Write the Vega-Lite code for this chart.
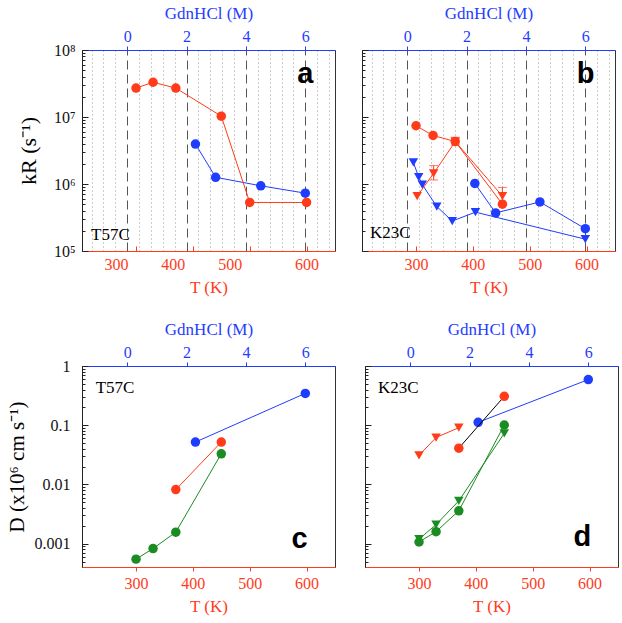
{
  "$schema": "https://vega.github.io/schema/vega-lite/v6.json",
  "padding": {"left": 5, "top": 3, "right": 5, "bottom": 5},
  "config": {
    "font": "Liberation Serif",
    "view": {"stroke": "#333333", "strokeWidth": 1},
    "axis": {"labelOverlap": false, "labelFont": "Liberation Serif", "titleFont": "Liberation Serif", "titleFontWeight": "normal", "labelFontSize": 16, "titleFontSize": 17, "grid": false},
    "line": {"strokeWidth": 1},
    "point": {"filled": true, "opacity": 1, "size": 90}
  },
  "datasets": {
    "kr": [
      {"panel": "a", "series": "a1", "group": "A", "probe": "1", "T": 300, "k": 27000000},
      {"panel": "a", "series": "a1", "group": "A", "probe": "1", "T": 330, "k": 33000000},
      {"panel": "a", "series": "a1", "group": "A", "probe": "1", "T": 370, "k": 27000000},
      {"panel": "a", "series": "a1", "group": "A", "probe": "1", "T": 450, "k": 10300000},
      {"panel": "a", "series": "a1", "group": "A", "probe": "1", "T": 500, "k": 530000},
      {"panel": "a", "series": "a1", "group": "A", "probe": "1", "T": 600, "k": 530000},
      {"panel": "a", "series": "a2", "group": "B", "probe": "1", "G": 2.3, "k": 3950000},
      {"panel": "a", "series": "a2", "group": "B", "probe": "1", "G": 2.98, "k": 1260000},
      {"panel": "a", "series": "a2", "group": "B", "probe": "1", "G": 4.5, "k": 940000},
      {"panel": "a", "series": "a2", "group": "B", "probe": "1", "G": 6.0, "k": 730000},
      {"panel": "b", "series": "b1", "group": "A", "probe": "1", "T": 300, "k": 7400000},
      {"panel": "b", "series": "b1", "group": "A", "probe": "1", "T": 330, "k": 5300000},
      {"panel": "b", "series": "b1", "group": "A", "probe": "1", "T": 369, "k": 4300000},
      {"panel": "b", "series": "b1", "group": "A", "probe": "1", "T": 452, "k": 500000},
      {"panel": "b", "series": "b2", "group": "A", "probe": "2", "T": 302, "k": 660000},
      {"panel": "b", "series": "b2", "group": "A", "probe": "2", "T": 331, "k": 1440000, "lo": 1150000, "hi": 1880000},
      {"panel": "b", "series": "b2", "group": "A", "probe": "2", "T": 369, "k": 4300000, "lo": 3820000, "hi": 4980000},
      {"panel": "b", "series": "b2", "group": "A", "probe": "2", "T": 452, "k": 660000, "lo": 490000, "hi": 890000},
      {"panel": "b", "series": "b3", "group": "B", "probe": "2", "G": 0.21, "k": 2100000},
      {"panel": "b", "series": "b3", "group": "B", "probe": "2", "G": 0.39, "k": 1270000},
      {"panel": "b", "series": "b3", "group": "B", "probe": "2", "G": 0.51, "k": 980000},
      {"panel": "b", "series": "b3", "group": "B", "probe": "2", "G": 1.0, "k": 460000},
      {"panel": "b", "series": "b3", "group": "B", "probe": "2", "G": 1.52, "k": 280000},
      {"panel": "b", "series": "b3", "group": "B", "probe": "2", "G": 2.3, "k": 380000},
      {"panel": "b", "series": "b3", "group": "B", "probe": "2", "G": 6.0, "k": 150000},
      {"panel": "b", "series": "b4", "group": "B", "probe": "1", "G": 2.28, "k": 1020000},
      {"panel": "b", "series": "b4", "group": "B", "probe": "1", "G": 2.98, "k": 370000},
      {"panel": "b", "series": "b4", "group": "B", "probe": "1", "G": 4.47, "k": 540000},
      {"panel": "b", "series": "b4", "group": "B", "probe": "1", "G": 6.0, "k": 215000}
    ],
    "diff": [
      {"panel": "c", "series": "c1", "group": "C", "probe": "1", "T": 300, "D": 0.00055},
      {"panel": "c", "series": "c1", "group": "C", "probe": "1", "T": 330, "D": 0.00083},
      {"panel": "c", "series": "c1", "group": "C", "probe": "1", "T": 370, "D": 0.00157},
      {"panel": "c", "series": "c1", "group": "C", "probe": "1", "T": 450, "D": 0.033},
      {"panel": "c", "series": "c2", "group": "A", "probe": "1", "T": 370, "D": 0.0082},
      {"panel": "c", "series": "c2", "group": "A", "probe": "1", "T": 450, "D": 0.052},
      {"panel": "c", "series": "c3", "group": "B", "probe": "1", "G": 2.3, "D": 0.052},
      {"panel": "c", "series": "c3", "group": "B", "probe": "1", "G": 6.0, "D": 0.345},
      {"panel": "d", "series": "d1", "group": "A", "probe": "2", "T": 300, "D": 0.031},
      {"panel": "d", "series": "d1", "group": "A", "probe": "2", "T": 330, "D": 0.062},
      {"panel": "d", "series": "d1", "group": "A", "probe": "2", "T": 370, "D": 0.091},
      {"panel": "d", "series": "d2", "group": "A", "probe": "1", "T": 370, "D": 0.041},
      {"panel": "d", "series": "d2", "group": "A", "probe": "1", "T": 450, "D": 0.308},
      {"panel": "d", "series": "d3", "group": "C", "probe": "1", "T": 300, "D": 0.00107},
      {"panel": "d", "series": "d3", "group": "C", "probe": "1", "T": 330, "D": 0.0016},
      {"panel": "d", "series": "d3", "group": "C", "probe": "1", "T": 370, "D": 0.0036},
      {"panel": "d", "series": "d3", "group": "C", "probe": "1", "T": 450, "D": 0.101},
      {"panel": "d", "series": "d4", "group": "C", "probe": "2", "T": 300, "D": 0.0012},
      {"panel": "d", "series": "d4", "group": "C", "probe": "2", "T": 330, "D": 0.0021},
      {"panel": "d", "series": "d4", "group": "C", "probe": "2", "T": 370, "D": 0.0053},
      {"panel": "d", "series": "d4", "group": "C", "probe": "2", "T": 450, "D": 0.073},
      {"panel": "d", "series": "d5", "group": "B", "probe": "1", "G": 2.29, "D": 0.112},
      {"panel": "d", "series": "d5", "group": "B", "probe": "1", "G": 6.0, "D": 0.59}
    ],
    "notes": [
      {"panel": "a", "kind": "letter", "label": "a", "T": 612, "v": 32000000},
      {"panel": "a", "kind": "name", "label": "T57C", "T": 221, "v": 146000},
      {"panel": "b", "kind": "letter", "label": "b", "T": 614, "v": 32000000},
      {"panel": "b", "kind": "name", "label": "K23C", "T": 219, "v": 155000},
      {"panel": "c", "kind": "letter", "label": "c", "T": 602, "v": 0.00085},
      {"panel": "c", "kind": "name", "label": "T57C", "T": 229, "v": 0.355},
      {"panel": "d", "kind": "letter", "label": "d", "T": 603, "v": 0.00092},
      {"panel": "d", "kind": "name", "label": "K23C", "T": 228, "v": 0.355}
    ]
  },
  "spacing": 23,
  "columns": 1,
  "align": "none",
  "concat": [
    {
      "spacing": 25,
      "hconcat": [
        {
          "width": 253, "height": 201,
          "resolve": {"scale": {"x": "independent"}},
          "encoding": {"y": {"field": "k", "type": "quantitative", "scale": {"type": "log", "domain": [100000, 100000000], "nice": false},
            "axis": {"title": "kR (s⁻¹)", "titleFontSize": 22, "titlePadding": 13, "domainColor": "#222", "tickColor": "#222", "labelColor": "#111", "grid": false,
              "values": [100000,200000,300000,400000,500000,600000,700000,800000,900000,1000000,2000000,3000000,4000000,5000000,6000000,7000000,8000000,9000000,10000000,20000000,30000000,40000000,50000000,60000000,70000000,80000000,90000000,100000000],
              "labelExpr": "abs(log(datum.value)/LN10 - round(log(datum.value)/LN10)) < 1e-6 ? '10' + ['⁰','¹','²','³','⁴','⁵','⁶','⁷','⁸','⁹'][round(log(datum.value)/LN10)] : ''",
              "tickSize": {"condition": {"test": "abs(log(datum.value)/LN10 - round(log(datum.value)/LN10)) < 1e-6", "value": -6}, "value": -3},
              "labelPadding": 13}}},
          "layer": [
            {
              "data": {"name": "kr"},
              "transform": [{"filter": "datum.panel == 'a' && isValid(datum.G)"}],
              "encoding": {"x": {"field": "G", "type": "quantitative", "scale": {"domain": [-1.52, 7.0], "nice": false, "zero": false},
                "axis": {"orient": "top", "title": "GdnHCl (M)", "titleColor": "#1f3dff", "labelColor": "#1f3dff", "domainColor": "#1f3dff", "tickColor": "#1f3dff", "titlePadding": 6,
                  "values": [-1.2,-0.8,-0.4,0,0.4,0.8,1.2,1.6,2,2.4,2.8,3.2,3.6,4,4.4,4.8,5.2,5.6,6,6.4,6.8],
                  "labelExpr": "abs(datum.value % 2) < 1e-6 ? format(datum.value, 'd') : ''",
                  "tickOpacity": {"condition": {"test": "abs(datum.value % 2) < 1e-6", "value": 1}, "value": 0},
                  "tickSize": 4,
                  "grid": true,
                  "gridColor": {"condition": {"test": "abs(datum.value % 2) < 1e-6", "value": "#555555"}, "value": "#9a9a9a"},
                  "gridDash": {"condition": {"test": "abs(datum.value % 2) < 1e-6", "value": [9, 5]}, "value": [1, 3]}}}},
              "layer": [
                {"mark": {"type": "line"}, "encoding": {"stroke": {"field": "series", "type": "nominal", "legend": null, "scale": {"domain": ["a1","a2","b1","b2","b3","b4","c1","c2","c3","d1","d2","d3","d4","d5"], "range": ["#ff3b1a","#1f3dff","#ff3b1a","#ff3b1a","#1f3dff","#1f3dff","#1b8c22","#ff3b1a","#1f3dff","#ff3b1a","#000000","#1b8c22","#1b8c22","#1f3dff"]}}}},
                {"mark": {"type": "point"}, "encoding": {"color": {"field": "group", "type": "nominal", "legend": null, "scale": {"domain": ["A","B","C"], "range": ["#ff3b1a","#1f3dff","#1b8c22"]}}, "shape": {"field": "probe", "type": "nominal", "legend": null, "scale": {"domain": ["1","2"], "range": ["circle","triangle-down"]}}}}
              ]
            },
            {
              "encoding": {"x": {"field": "T", "type": "quantitative", "scale": {"domain": [205, 650], "nice": false, "zero": false},
                "axis": {"orient": "bottom", "title": "T (K)", "titleColor": "#ff3b1a", "labelColor": "#ff3b1a", "domainColor": "#ff3b1a", "tickColor": "#ff3b1a", "values": [300, 400, 500, 600], "tickSize": -5, "labelPadding": 10, "titlePadding": 7, "grid": false,
                  "labelOffset": {"condition": {"test": "datum.value < 550", "value": -20}, "value": 0}}}},
              "layer": [
                {"data": {"name": "kr"}, "transform": [{"filter": "datum.panel == 'a' && isValid(datum.T)"}],
                 "mark": {"type": "line"}, "encoding": {"stroke": {"field": "series", "type": "nominal", "legend": null, "scale": {"domain": ["a1","a2","b1","b2","b3","b4","c1","c2","c3","d1","d2","d3","d4","d5"], "range": ["#ff3b1a","#1f3dff","#ff3b1a","#ff3b1a","#1f3dff","#1f3dff","#1b8c22","#ff3b1a","#1f3dff","#ff3b1a","#000000","#1b8c22","#1b8c22","#1f3dff"]}}}},
                {"data": {"name": "kr"}, "transform": [{"filter": "datum.panel == 'a' && isValid(datum.T)"}],
                 "mark": {"type": "point"}, "encoding": {"color": {"field": "group", "type": "nominal", "legend": null, "scale": {"domain": ["A","B","C"], "range": ["#ff3b1a","#1f3dff","#1b8c22"]}}, "shape": {"field": "probe", "type": "nominal", "legend": null, "scale": {"domain": ["1","2"], "range": ["circle","triangle-down"]}}}},
                {"data": {"name": "notes"}, "transform": [{"filter": "datum.panel == 'a' && datum.kind == 'letter'"}],
                 "mark": {"type": "text", "font": "Liberation Sans", "fontWeight": "bold", "fontSize": 29, "align": "right", "baseline": "alphabetic", "color": "#000000"},
                 "encoding": {"y": {"field": "v", "type": "quantitative"}, "text": {"field": "label"}}},
                {"data": {"name": "notes"}, "transform": [{"filter": "datum.panel == 'a' && datum.kind == 'name'"}],
                 "mark": {"type": "text", "font": "Liberation Serif", "fontSize": 17, "align": "left", "baseline": "alphabetic", "color": "#000000"},
                 "encoding": {"y": {"field": "v", "type": "quantitative"}, "text": {"field": "label"}}}
              ]
            }
          ]
        },
        {
          "width": 253, "height": 201,
          "resolve": {"scale": {"x": "independent"}},
          "encoding": {"y": {"field": "k", "type": "quantitative", "scale": {"type": "log", "domain": [100000, 100000000], "nice": false},
            "axis": {"title": null, "labels": false, "domainColor": "#222", "tickColor": "#222", "grid": false,
              "values": [100000,200000,300000,400000,500000,600000,700000,800000,900000,1000000,2000000,3000000,4000000,5000000,6000000,7000000,8000000,9000000,10000000,20000000,30000000,40000000,50000000,60000000,70000000,80000000,90000000,100000000],
              "tickSize": {"condition": {"test": "abs(log(datum.value)/LN10 - round(log(datum.value)/LN10)) < 1e-6", "value": -6}, "value": -3}}}},
          "layer": [
            {
              "data": {"name": "kr"},
              "transform": [{"filter": "datum.panel == 'b' && isValid(datum.G)"}],
              "encoding": {"x": {"field": "G", "type": "quantitative", "scale": {"domain": [-1.52, 7.0], "nice": false, "zero": false},
                "axis": {"orient": "top", "title": "GdnHCl (M)", "titleColor": "#1f3dff", "labelColor": "#1f3dff", "domainColor": "#1f3dff", "tickColor": "#1f3dff", "titlePadding": 6,
                  "values": [-1.2,-0.8,-0.4,0,0.4,0.8,1.2,1.6,2,2.4,2.8,3.2,3.6,4,4.4,4.8,5.2,5.6,6,6.4,6.8],
                  "labelExpr": "abs(datum.value % 2) < 1e-6 ? format(datum.value, 'd') : ''",
                  "tickOpacity": {"condition": {"test": "abs(datum.value % 2) < 1e-6", "value": 1}, "value": 0},
                  "tickSize": 4,
                  "grid": true,
                  "gridColor": {"condition": {"test": "abs(datum.value % 2) < 1e-6", "value": "#555555"}, "value": "#9a9a9a"},
                  "gridDash": {"condition": {"test": "abs(datum.value % 2) < 1e-6", "value": [9, 5]}, "value": [1, 3]}}}},
              "layer": [
                {"mark": {"type": "line"}, "encoding": {"stroke": {"field": "series", "type": "nominal", "legend": null, "scale": {"domain": ["a1","a2","b1","b2","b3","b4","c1","c2","c3","d1","d2","d3","d4","d5"], "range": ["#ff3b1a","#1f3dff","#ff3b1a","#ff3b1a","#1f3dff","#1f3dff","#1b8c22","#ff3b1a","#1f3dff","#ff3b1a","#000000","#1b8c22","#1b8c22","#1f3dff"]}}}},
                {"mark": {"type": "point"}, "encoding": {"color": {"field": "group", "type": "nominal", "legend": null, "scale": {"domain": ["A","B","C"], "range": ["#ff3b1a","#1f3dff","#1b8c22"]}}, "shape": {"field": "probe", "type": "nominal", "legend": null, "scale": {"domain": ["1","2"], "range": ["circle","triangle-down"]}}}}
              ]
            },
            {
              "encoding": {"x": {"field": "T", "type": "quantitative", "scale": {"domain": [205, 650], "nice": false, "zero": false},
                "axis": {"orient": "bottom", "title": "T (K)", "titleColor": "#ff3b1a", "labelColor": "#ff3b1a", "domainColor": "#ff3b1a", "tickColor": "#ff3b1a", "values": [300, 400, 500, 600], "tickSize": -5, "labelPadding": 10, "titlePadding": 7, "grid": false}}},
              "layer": [
                {"data": {"name": "kr"}, "transform": [{"filter": "datum.panel == 'b' && isValid(datum.T)"}],
                 "mark": {"type": "line"}, "encoding": {"stroke": {"field": "series", "type": "nominal", "legend": null, "scale": {"domain": ["a1","a2","b1","b2","b3","b4","c1","c2","c3","d1","d2","d3","d4","d5"], "range": ["#ff3b1a","#1f3dff","#ff3b1a","#ff3b1a","#1f3dff","#1f3dff","#1b8c22","#ff3b1a","#1f3dff","#ff3b1a","#000000","#1b8c22","#1b8c22","#1f3dff"]}}}},
                {"data": {"name": "kr"}, "transform": [{"filter": "datum.panel == 'b' && isValid(datum.lo)"}],
                 "mark": {"type": "errorbar", "ticks": {"size": 9}, "color": "#ff3b1a"},
                 "encoding": {"y": {"field": "lo", "type": "quantitative", "scale": {"type": "log"}}, "y2": {"field": "hi"}}},
                {"data": {"name": "kr"}, "transform": [{"filter": "datum.panel == 'b' && isValid(datum.T)"}],
                 "mark": {"type": "point"}, "encoding": {"color": {"field": "group", "type": "nominal", "legend": null, "scale": {"domain": ["A","B","C"], "range": ["#ff3b1a","#1f3dff","#1b8c22"]}}, "shape": {"field": "probe", "type": "nominal", "legend": null, "scale": {"domain": ["1","2"], "range": ["circle","triangle-down"]}}}},
                {"data": {"name": "notes"}, "transform": [{"filter": "datum.panel == 'b' && datum.kind == 'letter'"}],
                 "mark": {"type": "text", "font": "Liberation Sans", "fontWeight": "bold", "fontSize": 29, "align": "right", "baseline": "alphabetic", "color": "#000000"},
                 "encoding": {"y": {"field": "v", "type": "quantitative"}, "text": {"field": "label"}}},
                {"data": {"name": "notes"}, "transform": [{"filter": "datum.panel == 'b' && datum.kind == 'name'"}],
                 "mark": {"type": "text", "font": "Liberation Serif", "fontSize": 17, "align": "left", "baseline": "alphabetic", "color": "#000000"},
                 "encoding": {"y": {"field": "v", "type": "quantitative"}, "text": {"field": "label"}}}
              ]
            }
          ]
        }
      ]
    },
    {
      "spacing": 28,
      "hconcat": [
        {
          "width": 253, "height": 201,
          "resolve": {"scale": {"x": "independent"}},
          "encoding": {"y": {"field": "D", "type": "quantitative", "scale": {"type": "log", "domain": [0.000405, 1], "nice": false},
            "axis": {"title": "D (x10⁶ cm s⁻¹)", "titleFontSize": 21, "titlePadding": 7, "domainColor": "#222", "tickColor": "#222", "labelColor": "#111", "grid": false,
              "values": [0.0005,0.0006,0.0007,0.0008,0.0009,0.001,0.002,0.003,0.004,0.005,0.006,0.007,0.008,0.009,0.01,0.02,0.03,0.04,0.05,0.06,0.07,0.08,0.09,0.1,0.2,0.3,0.4,0.5,0.6,0.7,0.8,0.9,1],
              "labelExpr": "abs(log(datum.value)/LN10 - round(log(datum.value)/LN10)) < 1e-6 ? format(datum.value, '~g') : ''",
              "tickSize": {"condition": {"test": "abs(log(datum.value)/LN10 - round(log(datum.value)/LN10)) < 1e-6", "value": -6}, "value": -3},
              "labelPadding": 18}}},
          "layer": [
            {
              "data": {"name": "diff"},
              "transform": [{"filter": "datum.panel == 'c' && isValid(datum.G)"}],
              "encoding": {"x": {"field": "G", "type": "quantitative", "scale": {"domain": [-1.52, 7.0], "nice": false, "zero": false},
                "axis": {"orient": "top", "title": "GdnHCl (M)", "titleColor": "#1f3dff", "labelColor": "#1f3dff", "domainColor": "#1f3dff", "tickColor": "#1f3dff", "titlePadding": 6,
                  "values": [0, 2, 4, 6], "format": "d", "tickSize": 4, "grid": false}}},
              "layer": [
                {"mark": {"type": "line"}, "encoding": {"stroke": {"field": "series", "type": "nominal", "legend": null, "scale": {"domain": ["a1","a2","b1","b2","b3","b4","c1","c2","c3","d1","d2","d3","d4","d5"], "range": ["#ff3b1a","#1f3dff","#ff3b1a","#ff3b1a","#1f3dff","#1f3dff","#1b8c22","#ff3b1a","#1f3dff","#ff3b1a","#000000","#1b8c22","#1b8c22","#1f3dff"]}}}},
                {"mark": {"type": "point"}, "encoding": {"color": {"field": "group", "type": "nominal", "legend": null, "scale": {"domain": ["A","B","C"], "range": ["#ff3b1a","#1f3dff","#1b8c22"]}}, "shape": {"field": "probe", "type": "nominal", "legend": null, "scale": {"domain": ["1","2"], "range": ["circle","triangle-down"]}}}}
              ]
            },
            {
              "encoding": {"x": {"field": "T", "type": "quantitative", "scale": {"domain": [205, 650], "nice": false, "zero": false},
                "axis": {"orient": "bottom", "title": "T (K)", "titleColor": "#ff3b1a", "labelColor": "#ff3b1a", "domainColor": "#ff3b1a", "tickColor": "#ff3b1a", "values": [300, 400, 500, 600], "tickSize": 4, "labelPadding": 4, "titlePadding": 7, "grid": false}}},
              "layer": [
                {"data": {"name": "diff"}, "transform": [{"filter": "datum.panel == 'c' && isValid(datum.T)"}],
                 "mark": {"type": "line"}, "encoding": {"stroke": {"field": "series", "type": "nominal", "legend": null, "scale": {"domain": ["a1","a2","b1","b2","b3","b4","c1","c2","c3","d1","d2","d3","d4","d5"], "range": ["#ff3b1a","#1f3dff","#ff3b1a","#ff3b1a","#1f3dff","#1f3dff","#1b8c22","#ff3b1a","#1f3dff","#ff3b1a","#000000","#1b8c22","#1b8c22","#1f3dff"]}}}},
                {"data": {"name": "diff"}, "transform": [{"filter": "datum.panel == 'c' && isValid(datum.T)"}],
                 "mark": {"type": "point"}, "encoding": {"color": {"field": "group", "type": "nominal", "legend": null, "scale": {"domain": ["A","B","C"], "range": ["#ff3b1a","#1f3dff","#1b8c22"]}}, "shape": {"field": "probe", "type": "nominal", "legend": null, "scale": {"domain": ["1","2"], "range": ["circle","triangle-down"]}}}},
                {"data": {"name": "notes"}, "transform": [{"filter": "datum.panel == 'c' && datum.kind == 'letter'"}],
                 "mark": {"type": "text", "font": "Liberation Sans", "fontWeight": "bold", "fontSize": 29, "align": "right", "baseline": "alphabetic", "color": "#000000"},
                 "encoding": {"y": {"field": "v", "type": "quantitative"}, "text": {"field": "label"}}},
                {"data": {"name": "notes"}, "transform": [{"filter": "datum.panel == 'c' && datum.kind == 'name'"}],
                 "mark": {"type": "text", "font": "Liberation Serif", "fontSize": 17, "align": "left", "baseline": "alphabetic", "color": "#000000"},
                 "encoding": {"y": {"field": "v", "type": "quantitative"}, "text": {"field": "label"}}}
              ]
            }
          ]
        },
        {
          "width": 253, "height": 201,
          "resolve": {"scale": {"x": "independent"}},
          "encoding": {"y": {"field": "D", "type": "quantitative", "scale": {"type": "log", "domain": [0.000405, 1], "nice": false},
            "axis": {"title": null, "labels": false, "domainColor": "#222", "tickColor": "#222", "grid": false,
              "values": [0.0005,0.0006,0.0007,0.0008,0.0009,0.001,0.002,0.003,0.004,0.005,0.006,0.007,0.008,0.009,0.01,0.02,0.03,0.04,0.05,0.06,0.07,0.08,0.09,0.1,0.2,0.3,0.4,0.5,0.6,0.7,0.8,0.9,1],
              "tickSize": {"condition": {"test": "abs(log(datum.value)/LN10 - round(log(datum.value)/LN10)) < 1e-6", "value": -6}, "value": -3}}}},
          "layer": [
            {
              "data": {"name": "diff"},
              "transform": [{"filter": "datum.panel == 'd' && isValid(datum.G)"}],
              "encoding": {"x": {"field": "G", "type": "quantitative", "scale": {"domain": [-1.52, 7.0], "nice": false, "zero": false},
                "axis": {"orient": "top", "title": "GdnHCl (M)", "titleColor": "#1f3dff", "labelColor": "#1f3dff", "domainColor": "#1f3dff", "tickColor": "#1f3dff", "titlePadding": 6,
                  "values": [0, 2, 4, 6], "format": "d", "tickSize": 4, "grid": false}}},
              "layer": [
                {"mark": {"type": "line"}, "encoding": {"stroke": {"field": "series", "type": "nominal", "legend": null, "scale": {"domain": ["a1","a2","b1","b2","b3","b4","c1","c2","c3","d1","d2","d3","d4","d5"], "range": ["#ff3b1a","#1f3dff","#ff3b1a","#ff3b1a","#1f3dff","#1f3dff","#1b8c22","#ff3b1a","#1f3dff","#ff3b1a","#000000","#1b8c22","#1b8c22","#1f3dff"]}}}},
                {"mark": {"type": "point"}, "encoding": {"color": {"field": "group", "type": "nominal", "legend": null, "scale": {"domain": ["A","B","C"], "range": ["#ff3b1a","#1f3dff","#1b8c22"]}}, "shape": {"field": "probe", "type": "nominal", "legend": null, "scale": {"domain": ["1","2"], "range": ["circle","triangle-down"]}}}}
              ]
            },
            {
              "encoding": {"x": {"field": "T", "type": "quantitative", "scale": {"domain": [205, 650], "nice": false, "zero": false},
                "axis": {"orient": "bottom", "title": "T (K)", "titleColor": "#ff3b1a", "labelColor": "#ff3b1a", "domainColor": "#ff3b1a", "tickColor": "#ff3b1a", "values": [300, 400, 500, 600], "tickSize": 4, "labelPadding": 4, "titlePadding": 7, "grid": false}}},
              "layer": [
                {"data": {"name": "diff"}, "transform": [{"filter": "datum.panel == 'd' && isValid(datum.T)"}],
                 "mark": {"type": "line"}, "encoding": {"stroke": {"field": "series", "type": "nominal", "legend": null, "scale": {"domain": ["a1","a2","b1","b2","b3","b4","c1","c2","c3","d1","d2","d3","d4","d5"], "range": ["#ff3b1a","#1f3dff","#ff3b1a","#ff3b1a","#1f3dff","#1f3dff","#1b8c22","#ff3b1a","#1f3dff","#ff3b1a","#000000","#1b8c22","#1b8c22","#1f3dff"]}}}},
                {"data": {"name": "diff"}, "transform": [{"filter": "datum.panel == 'd' && isValid(datum.T)"}],
                 "mark": {"type": "point"}, "encoding": {"color": {"field": "group", "type": "nominal", "legend": null, "scale": {"domain": ["A","B","C"], "range": ["#ff3b1a","#1f3dff","#1b8c22"]}}, "shape": {"field": "probe", "type": "nominal", "legend": null, "scale": {"domain": ["1","2"], "range": ["circle","triangle-down"]}}}},
                {"data": {"name": "notes"}, "transform": [{"filter": "datum.panel == 'd' && datum.kind == 'letter'"}],
                 "mark": {"type": "text", "font": "Liberation Sans", "fontWeight": "bold", "fontSize": 29, "align": "right", "baseline": "alphabetic", "color": "#000000"},
                 "encoding": {"y": {"field": "v", "type": "quantitative"}, "text": {"field": "label"}}},
                {"data": {"name": "notes"}, "transform": [{"filter": "datum.panel == 'd' && datum.kind == 'name'"}],
                 "mark": {"type": "text", "font": "Liberation Serif", "fontSize": 17, "align": "left", "baseline": "alphabetic", "color": "#000000"},
                 "encoding": {"y": {"field": "v", "type": "quantitative"}, "text": {"field": "label"}}}
              ]
            }
          ]
        }
      ]
    }
  ]
}
